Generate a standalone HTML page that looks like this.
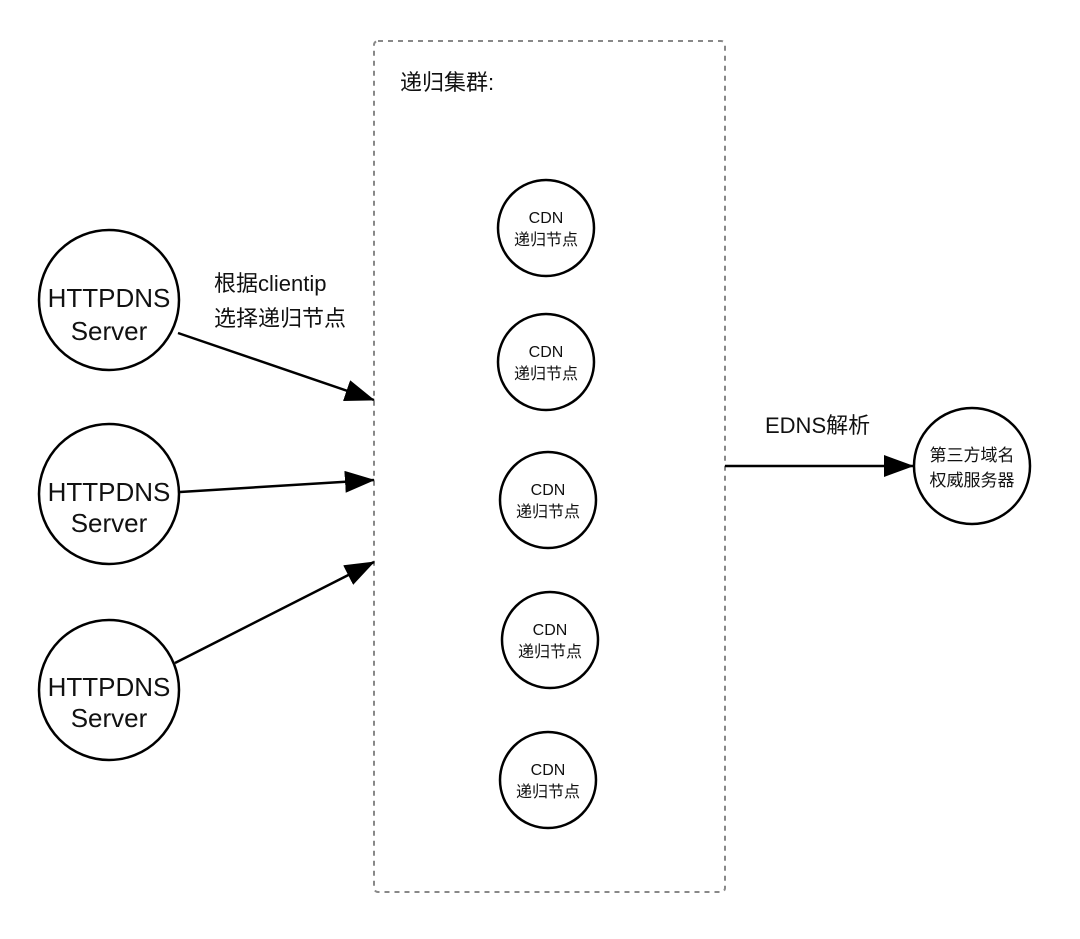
<!DOCTYPE html>
<html><head><meta charset="utf-8"><style>
body{margin:0;background:#fff}
text{font-family:"Liberation Sans","Noto Sans CJK SC",sans-serif;fill:#111}
</style></head><body>
<svg width="1080" height="934" viewBox="0 0 1080 934" xmlns="http://www.w3.org/2000/svg">
<defs>
<marker id="b" markerWidth="30" markerHeight="22" refX="29" refY="11" orient="auto" markerUnits="userSpaceOnUse" viewBox="0 0 30 22"><path d="M0,0 L30,11 L0,22 z" fill="#000"/></marker></defs>
<rect x="374" y="41" width="351" height="851" rx="4" fill="none" stroke="#888" stroke-width="2" stroke-dasharray="5,5"/>
<text x="400" y="90" font-size="22">递归集群:</text>
<g fill="#fff" stroke="#000" stroke-width="2.5">
<circle cx="109" cy="300" r="70"/><circle cx="109" cy="494" r="70"/><circle cx="109" cy="690" r="70"/>
<circle cx="546" cy="228" r="48"/><circle cx="546" cy="362" r="48"/><circle cx="548" cy="500" r="48"/><circle cx="550" cy="640" r="48"/><circle cx="548" cy="780" r="48"/>
<circle cx="972" cy="466" r="58"/>
</g>
<g font-size="26" text-anchor="middle">
<text x="109" y="307">HTTPDNS</text><text x="109" y="340">Server</text>
<text x="109" y="501">HTTPDNS</text><text x="109" y="532">Server</text>
<text x="109" y="696">HTTPDNS</text><text x="109" y="727">Server</text>
</g>
<g font-size="16" text-anchor="middle">
<text x="546" y="223">CDN</text><text x="546" y="245">递归节点</text>
<text x="546" y="357">CDN</text><text x="546" y="379">递归节点</text>
<text x="548" y="495">CDN</text><text x="548" y="517">递归节点</text>
<text x="550" y="635">CDN</text><text x="550" y="657">递归节点</text>
<text x="548" y="775">CDN</text><text x="548" y="797">递归节点</text>
</g>
<g font-size="17" text-anchor="middle">
<text x="972" y="461">第三方域名</text><text x="972" y="486">权威服务器</text>
</g>
<text x="214" y="291" font-size="22">根据clientip</text>
<text x="214" y="326" font-size="22">选择递归节点</text>
<text x="765" y="433" font-size="22">EDNS解析</text>
<g stroke="#000" stroke-width="2.5">
<line x1="178" y1="333" x2="374" y2="400" marker-end="url(#b)"/>
<line x1="180" y1="492" x2="374" y2="480" marker-end="url(#b)"/>
<line x1="175" y1="663" x2="374" y2="562" marker-end="url(#b)"/>
<line x1="725" y1="466" x2="913" y2="466" marker-end="url(#b)"/>
</g>
</svg>
</body></html>
